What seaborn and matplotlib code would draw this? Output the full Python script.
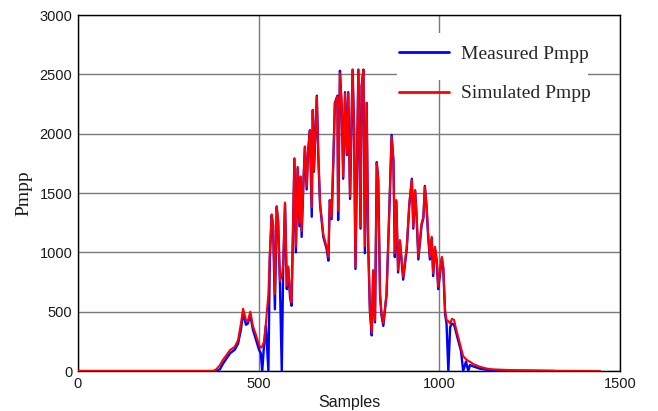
import numpy as np
import pandas as pd
import matplotlib
matplotlib.use("Agg")
import matplotlib.pyplot as plt
import seaborn as sns

# ---- data ----
samples = [0, 374, 383, 393, 401, 410, 421, 434, 443, 451, 457, 465, 470, 477, 484, 493,
           501, 506, 510, 515, 520, 527, 531, 536, 540, 545, 550, 554, 559, 564, 568, 573,
           578, 582, 587, 591, 599, 603, 608, 613, 616, 619, 624, 628, 633, 637, 642, 647,
           650, 653, 661, 665, 670, 679, 688, 693, 697, 702, 707, 711, 718, 720, 725, 730,
           734, 739, 744, 748, 753, 760, 764, 768, 776, 782, 785, 790, 794, 799, 803, 808,
           813, 817, 822, 827, 831, 836, 840, 845, 854, 861, 868, 873, 877, 881, 886, 891,
           900, 910, 917, 924, 928, 933, 937, 942, 951, 956, 960, 965, 969, 974, 979, 983,
           988, 993, 997, 1007, 1011, 1016, 1020, 1025, 1030, 1035, 1041, 1046, 1052, 1060,
           1066, 1074, 1080, 1085, 1093, 1112, 1132, 1148, 1196, 1306, 1320, 1445]

simulated = [0, 0, 15, 50, 93, 130, 177, 205, 260, 400, 525, 430, 420, 500, 380, 300,
             220, 195, 210, 250, 400, 650, 1000, 1320, 1240, 650, 1390, 1270, 760, 800, 900, 1420,
             720, 880, 650, 580, 1790, 1050, 1720, 1250, 1640, 1180, 1600, 1890, 1553, 1862, 2031, 1380,
             2200, 1694, 2312, 1834, 1413, 1150, 1047, 963, 1441, 1300, 1806, 2256, 2312, 1350, 2509, 2227,
             1637, 2340, 1834, 2340, 1469, 2537, 2059, 879, 2537, 1216, 2396, 2537, 1050, 2256, 1104, 514,
             318, 851, 430, 1750, 1609, 654, 486, 402, 654, 1300, 1975, 1778, 992, 1441, 851, 1104,
             795, 1047, 1413, 1609, 1216, 1525, 1329, 963, 1245, 1300, 1553, 1385, 1160, 963, 1132, 823,
             1047, 935, 710, 963, 879, 514, 430, 420, 400, 440, 430, 360, 290, 200,
             125, 100, 85, 78, 60, 36, 20, 14, 8, 3, 2, 0]

measured = [0, 0, 0, 15, 60, 100, 150, 180, 230, 350, 490, 390, 400, 470, 350, 260,
            180, 150, 0, 220, 380, 0, 950, 1310, 1220, 520, 1380, 1250, 730, 0, 870, 1410,
            690, 860, 620, 550, 1790, 1000, 1710, 1220, 1630, 1130, 1590, 1890, 1530, 1860, 2030, 1300,
            2200, 1680, 2320, 1820, 1400, 1130, 1030, 930, 1440, 1280, 1800, 2260, 2320, 1272, 2530, 2220,
            1620, 2350, 1820, 2350, 1450, 2540, 2050, 860, 2540, 1200, 2400, 2540, 992, 2260, 1090, 500,
            300, 840, 410, 1760, 1600, 640, 470, 380, 640, 1290, 1990, 1770, 960, 1430, 830, 1090,
            770, 1030, 1400, 1620, 1200, 1520, 1310, 940, 1230, 1290, 1560, 1370, 1140, 940, 1120, 800,
            1030, 920, 690, 950, 860, 480, 400, 0, 370, 400, 390, 330, 260, 170,
            0, 80, 0, 50, 40, 20, 10, 5, 3, 0, 0, np.nan]

series_names = ["Measured Pmpp", "Simulated Pmpp"]
x_ticks = [0, 500, 1000, 1500]
y_ticks = [0, 500, 1000, 1500, 2000, 2500, 3000]

df = pd.DataFrame({"Samples": samples, series_names[0]: measured, series_names[1]: simulated})

# ---- figure ----
sns.set_style("white")
plt.rcParams["font.family"] = ["Liberation Sans", "DejaVu Sans"]
serif = ["Liberation Serif", "DejaVu Serif"]

fig = plt.figure(figsize=(6.58, 4.11), dpi=100)
ax = fig.add_axes([0.1185, 0.0973, 0.8237, 0.8662])

ax.grid(True, color="#7a7a7a", linewidth=1.0, zorder=0)
ax.set_axisbelow(True)

sns.lineplot(data=df, x="Samples", y=series_names[0], ax=ax, color="#0000ff",
             linewidth=1.7, sort=False, estimator=None, label=series_names[0], zorder=3)
sns.lineplot(data=df, x="Samples", y=series_names[1], ax=ax, color="#ff0000",
             linewidth=1.5, sort=False, estimator=None, label=series_names[1], zorder=4)

ax.set_xlim(0, 1500)
ax.set_ylim(0, 3000)
ax.set_xticks(x_ticks)
ax.set_yticks(y_ticks)
ax.tick_params(axis="both", length=0, labelsize=10.5, colors="#1a1a1a", pad=4)

for s in ax.spines.values():
    s.set_visible(True)
    s.set_color("black")
    s.set_linewidth(1.0)

ax.set_xlabel("Samples", fontsize=11.5, color="#1a1a1a", labelpad=3)
ax.set_ylabel("Pmpp", fontsize=14, family=serif, color="#1a1a1a", labelpad=5)

# white box behind the first legend entry (as in the reference)
ax.add_patch(plt.Rectangle((0.589, 0.817), 0.352, 0.132, transform=ax.transAxes,
                           facecolor="white", edgecolor="none", zorder=2))

leg = ax.legend(loc="upper left", bbox_to_anchor=(0.592, 0.916), frameon=False,
                borderaxespad=0, borderpad=0, handlelength=2.6, handletextpad=0.6,
                labelspacing=1.15, prop={"family": serif, "size": 14})
for line in leg.get_lines():
    line.set_linewidth(2.0)

fig.savefig("out.png", dpi=100)
